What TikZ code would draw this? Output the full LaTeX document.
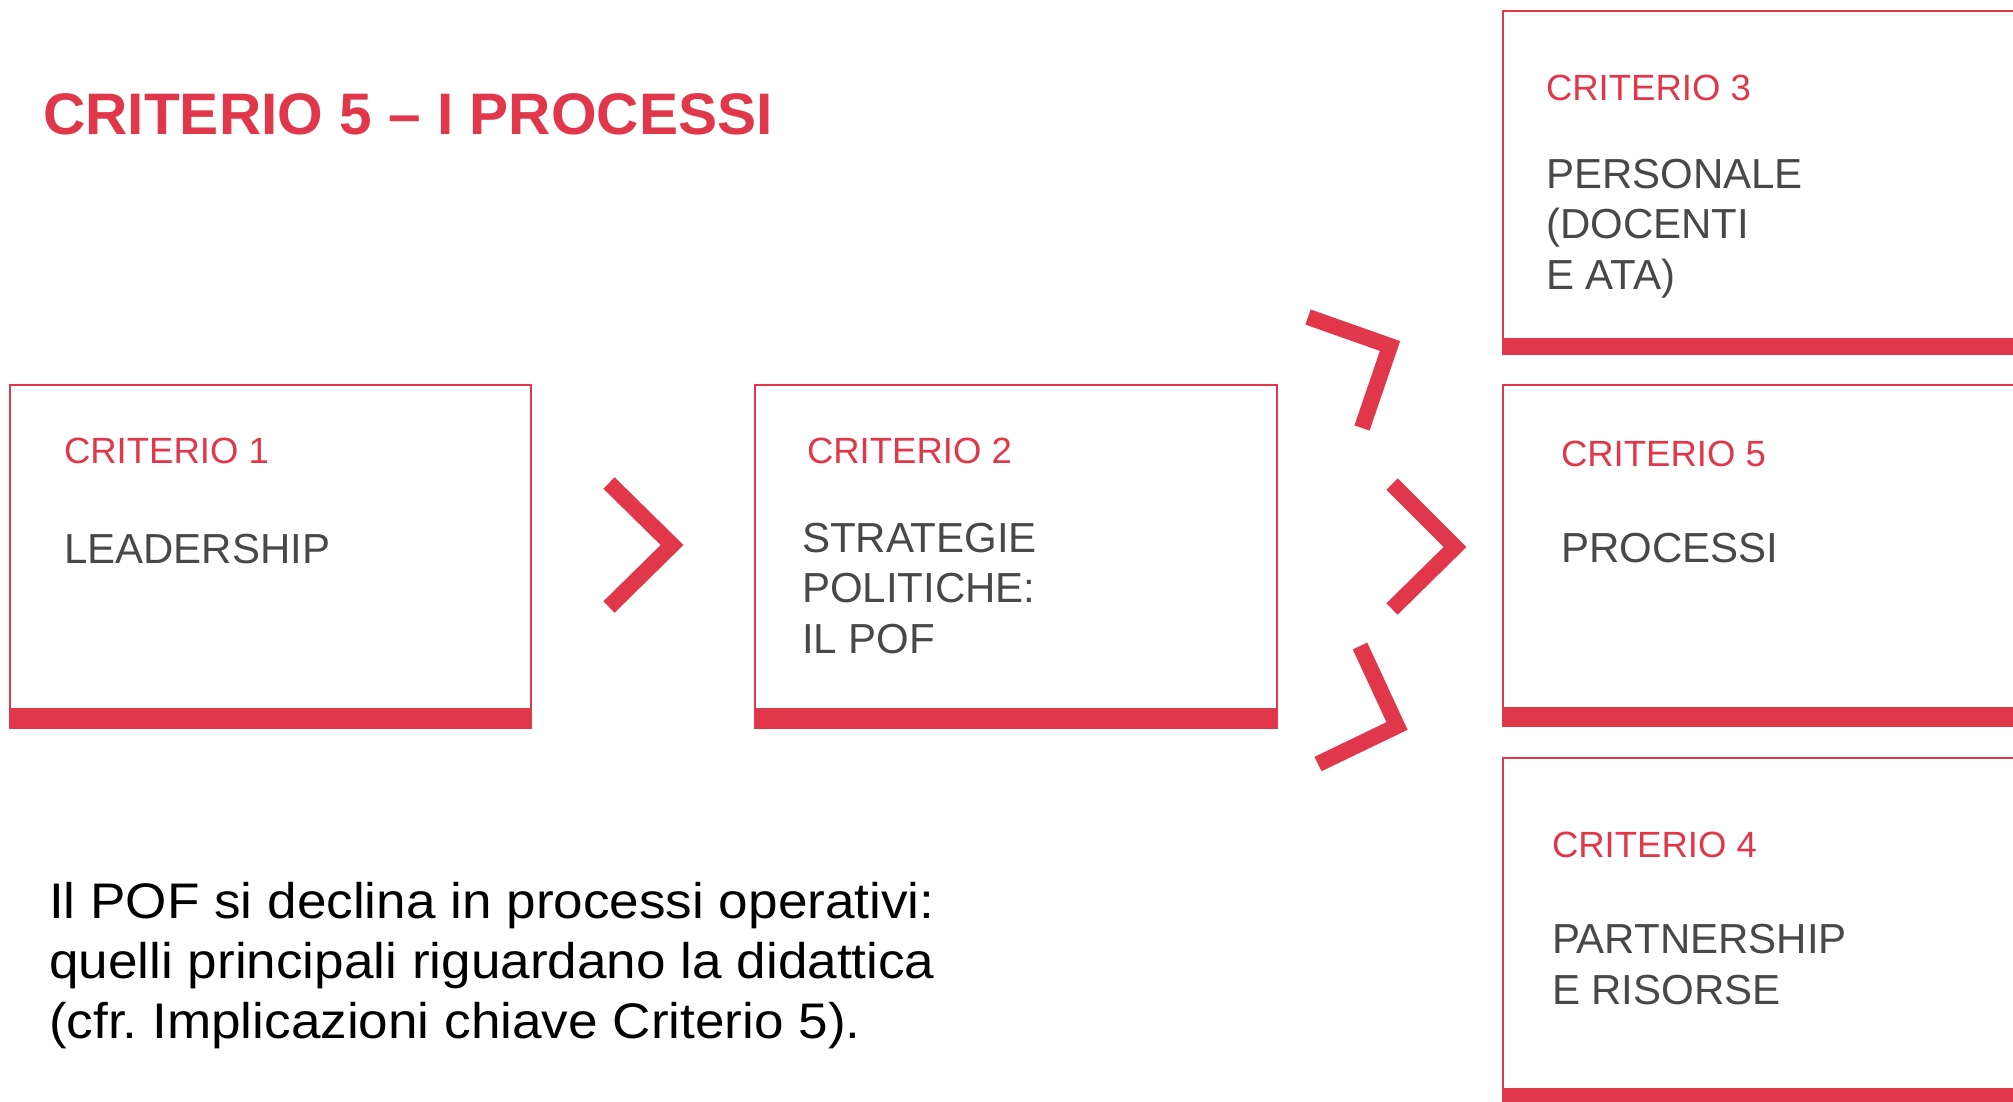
\documentclass[tikz,border=0pt]{standalone}
\usepackage{fontspec}
\setmainfont{Liberation Sans}
\definecolor{cred}{RGB}{224,55,75}
\definecolor{cgray}{RGB}{72,72,72}
\frenchspacing
\begin{document}
\begin{tikzpicture}[x=1pt,y=-1pt,
  box/.style={draw=cred, line width=2.5pt, anchor=north west, inner sep=0pt, outer sep=0pt},
  lab/.style={anchor=base west, inner sep=0pt, outer sep=0pt, text=cred, font=\fontsize{36.5}{44}\selectfont},
  body/.style={anchor=base west, inner sep=0pt, outer sep=0pt, text=cgray, align=left, font=\fontsize{42}{50.5}\selectfont},
  chev/.style={draw=cred, line width=16pt, line join=miter, line cap=butt}]
\useasboundingbox (0,0) rectangle (2013,1101);
\fill[white] (0,0) rectangle (2013,1101);

% title
\node[anchor=base west, inner sep=0pt, text=cred, font=\fontsize{58.6}{70}\selectfont\bfseries] (title) at (43,134) {CRITERIO 5 -- I PROCESSI};

% boxes
\node[box, minimum width=521pt, minimum height=343pt] (b1) at (10,385) {};
\fill[cred] ([yshift=20pt]b1.south west) rectangle (b1.south east);
\node[box, minimum width=522pt, minimum height=343pt] (b2) at (755,385) {};
\fill[cred] ([yshift=20pt]b2.south west) rectangle (b2.south east);
\node[box, minimum width=600pt, minimum height=343pt] (b3) at (1503,11) {};
\fill[cred] ([yshift=16pt]b3.south west) rectangle (b3.south east);
\node[box, minimum width=600pt, minimum height=341pt] (b5) at (1503,385) {};
\fill[cred] ([yshift=19pt]b5.south west) rectangle (b5.south east);
\node[box, minimum width=600pt, minimum height=353pt] (b4) at (1503,758) {};
\fill[cred] ([yshift=23pt]b4.south west) rectangle (b4.south east);

% box texts (multi-line nodes are placed by the baseline of their last line)
\node[lab] (l1) at (64,463) {CRITERIO 1};
\node[body] (d1) at (64,563) {LEADERSHIP};
\node[lab] (l2) at (807,463) {CRITERIO 2};
\node[body] (d2) at (802,653) {STRATEGIE\\POLITICHE:\\IL POF};
\node[lab] (l3) at (1546,100) {CRITERIO 3};
\node[body] (d3) at (1546,289) {PERSONALE\\(DOCENTI\\E ATA)};
\node[lab] (l5) at (1561,466) {CRITERIO 5};
\node[body] (d5) at (1561,562) {PROCESSI};
\node[lab] (l4) at (1552,857) {CRITERIO 4};
\node[body] (d4) at (1552,1004) {PARTNERSHIP\\E RISORSE};

% chevrons
\coordinate (c1a) at (609,483); \coordinate (c1b) at (672,545); \coordinate (c1c) at (609,607);
\coordinate (c2a) at (1392,484); \coordinate (c2b) at (1455,547); \coordinate (c2c) at (1392,609);
\coordinate (c3a) at (1308,317); \coordinate (c3b) at (1390,346); \coordinate (c3c) at (1362,428);
\coordinate (c4a) at (1360,646); \coordinate (c4b) at (1397,726); \coordinate (c4c) at (1318,764);
\draw[chev] (c1a) -- (c1b) -- (c1c);
\draw[chev] (c2a) -- (c2b) -- (c2c);
\draw[chev] (c3a) -- (c3b) -- (c3c);
\draw[chev] (c4a) -- (c4b) -- (c4c);

% bottom text
\node[anchor=base west, inner sep=0pt, align=left, text=black, xscale=1.062, font=\fontsize{50}{60}\selectfont] (note) at (49,1038) {Il POF si declina in processi operativi:\\quelli principali riguardano la didattica\\(cfr. Implicazioni chiave Criterio 5).};
\end{tikzpicture}
\end{document}
